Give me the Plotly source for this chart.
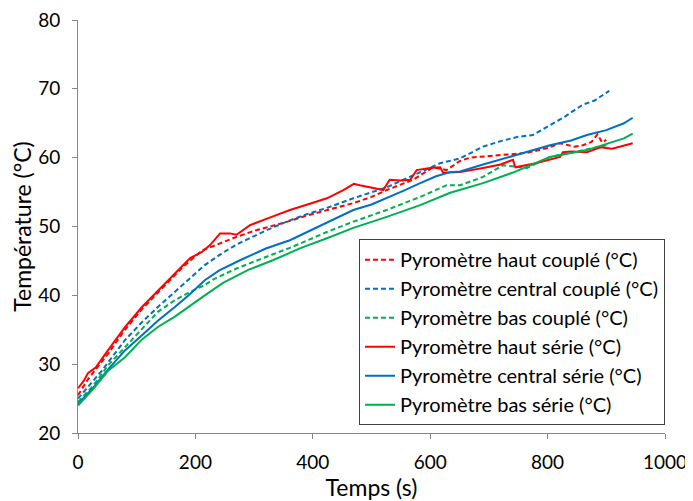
import plotly.graph_objects as go

# Pyromètre haut couplé
t_haut_c = [0, 17, 51, 80, 109, 143, 177, 211, 247, 270, 305, 349, 390, 424, 469, 500, 526, 571, 590,
            605, 628, 650, 668, 700, 719, 765, 800, 821, 845, 860, 875, 885, 893, 900]
T_haut_c = [25.5, 27.8, 31.5, 35.0, 38.0, 41.0, 44.0, 46.5, 47.7, 48.5, 49.5, 50.5, 51.6, 52.4, 53.4, 54.3,
            55.3, 56.8, 57.8, 58.6, 58.2, 59.5, 60.0, 60.2, 60.4, 60.7, 61.4, 62.1, 61.6, 61.8, 62.3, 63.4,
            62.2, 62.6]

# Pyromètre central couplé
t_central_c = [0, 40, 80, 109, 136, 165, 191, 216, 247, 275, 305, 330, 361, 390, 424, 469, 526, 583, 617,
               651, 690, 720, 748, 775, 799, 830, 860, 880, 905]
T_central_c = [25.0, 29.0, 33.5, 36.1, 38.3, 40.5, 42.6, 44.4, 46.2, 47.6, 48.8, 49.8, 50.9, 51.8, 52.7,
               54.1, 55.7, 57.9, 59.2, 59.9, 61.6, 62.4, 63.0, 63.3, 64.5, 66.0, 67.7, 68.3, 69.7]

# Pyromètre bas couplé
t_bas_c = [0, 25, 51, 80, 109, 136, 165, 191, 216, 230, 270, 305, 330, 361, 390, 424, 469, 526, 583, 610,
           628, 651, 690, 724, 765, 804, 840, 870, 900]
T_bas_c = [24.5, 26.8, 29.8, 32.5, 35.2, 37.6, 39.3, 40.5, 41.5, 42.3, 43.9, 45.1, 45.9, 46.9, 48.0, 49.2,
           50.7, 52.4, 54.3, 55.3, 56.0, 56.0, 57.2, 58.9, 58.5, 60.1, 60.7, 61.3, 61.8]

# Pyromètre haut série
t_haut_s = [0, 10, 17, 30, 51, 80, 109, 143, 177, 191, 211, 225, 242, 259, 270, 293, 330, 361, 395, 424,
            452, 470, 480, 500, 520, 531, 550, 566, 577, 600, 617, 622, 651, 690, 720, 741, 745, 780, 821,
            826, 840, 867, 890, 910, 930, 945]
T_haut_s = [26.5, 27.6, 28.7, 29.5, 32.0, 35.4, 38.3, 41.2, 44.1, 45.4, 46.3, 47.3, 49.0, 49.0, 48.8, 50.2,
            51.4, 52.4, 53.3, 54.1, 55.3, 56.2, 56.0, 55.6, 55.3, 56.8, 56.7, 56.8, 58.2, 58.5, 58.6, 57.8,
            57.9, 58.5, 59.0, 59.7, 58.6, 59.2, 60.1, 60.8, 60.9, 60.8, 61.5, 61.3, 61.8, 62.1]

# Pyromètre central série
t_central_s = [0, 25, 51, 80, 109, 136, 165, 191, 216, 240, 276, 320, 361, 390, 424, 469, 500, 526, 555,
               583, 610, 634, 651, 690, 719, 760, 804, 840, 867, 900, 930, 945]
T_central_s = [24.2, 26.5, 29.2, 32.0, 34.2, 36.3, 38.3, 40.2, 42.2, 43.6, 45.1, 46.8, 48.0, 49.2, 50.5,
               52.4, 53.2, 54.1, 55.2, 56.3, 57.3, 57.9, 58.0, 59.0, 59.7, 60.7, 61.8, 62.5, 63.3, 64.0,
               65.0, 65.8]

# Pyromètre bas série
t_bas_s = [0, 25, 51, 80, 109, 136, 165, 191, 216, 247, 290, 332, 380, 424, 469, 526, 583, 634, 690, 740,
           804, 867, 900, 930, 945]
T_bas_s = [24.0, 26.3, 29.0, 31.0, 33.6, 35.4, 36.9, 38.5, 40.0, 41.8, 43.7, 45.1, 46.9, 48.3, 49.8, 51.4,
           53.1, 54.9, 56.3, 57.8, 60.1, 61.1, 62.0, 62.8, 63.5]

RED = '#FF0000'
BLUE = '#0070C0'
GREEN = '#00B050'
DASH = '5px,3px'

series = [
    ('Pyromètre haut couplé (°C)', t_haut_c, T_haut_c, RED, DASH),
    ('Pyromètre central couplé (°C)', t_central_c, T_central_c, BLUE, DASH),
    ('Pyromètre bas couplé (°C)', t_bas_c, T_bas_c, GREEN, DASH),
    ('Pyromètre haut série (°C)', t_haut_s, T_haut_s, RED, 'solid'),
    ('Pyromètre central série (°C)', t_central_s, T_central_s, BLUE, 'solid'),
    ('Pyromètre bas série (°C)', t_bas_s, T_bas_s, GREEN, 'solid'),
]

fig = go.Figure()
for name, x, y, color, dash in series:
    fig.add_trace(go.Scatter(x=x, y=y, mode='lines', name=name,
                             line=dict(color=color, width=2, dash=dash)))

# la page html a une marge de 8 px : figure un peu plus petite que la fenêtre
fig.update_layout(autosize=False, width=685, height=493,
                  margin=dict(l=70, r=28, t=12, b=68),
                  paper_bgcolor='white', plot_bgcolor='white',
                  font=dict(family='Lato', size=19, color='black'),
                  showlegend=True,
                  legend=dict(x=1, y=0.019, xanchor='right', yanchor='bottom',
                              bordercolor='#404040', borderwidth=1, bgcolor='white',
                              font=dict(size=20), itemwidth=30, tracegroupgap=0))

fig.update_xaxes(range=[0, 1000], tickvals=[0, 200, 400, 600, 800, 1000],
                 title_text='Temps (s)', showgrid=False, zeroline=False, automargin=False,
                 showline=True, linecolor='#868686', linewidth=1, ticklabeloverflow='allow',
                 ticks='outside', ticklen=5, tickcolor='#868686', ticklabelstandoff=7)
fig.update_yaxes(range=[20, 80], dtick=10, title_text='Température (°C)',
                 showgrid=False, zeroline=False, automargin=False,
                 showline=True, linecolor='#868686', linewidth=1, ticklabeloverflow='allow',
                 ticks='outside', ticklen=5, tickcolor='#868686', ticklabelstandoff=8)

fig.write_html('out.html')
